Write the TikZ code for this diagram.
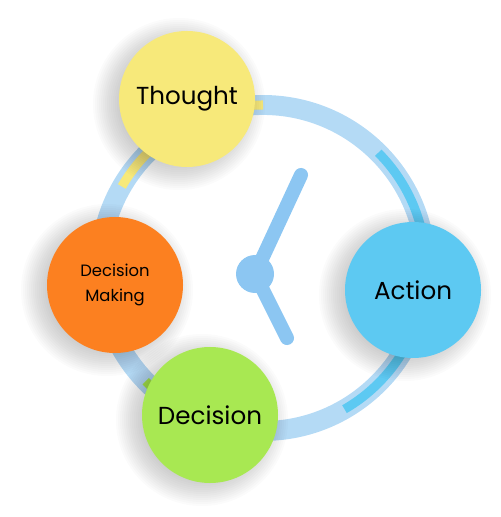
\documentclass[tikz,border=0pt]{standalone}
\usepackage{fontspec}
\setmainfont{Poppins}
\usepackage{tikz}
\usetikzlibrary{positioning}
\definecolor{ringblue}{RGB}{180,218,245}
\definecolor{handblue}{RGB}{140,198,242}
\definecolor{thoughtyellow}{RGB}{247,233,122}
\definecolor{actionblue}{RGB}{93,201,242}
\definecolor{makingorange}{RGB}{252,128,32}
\definecolor{decisiongreen}{RGB}{168,232,82}

\begin{document}
\begin{tikzpicture}[x=0.03cm,y=-0.03cm,
  stage/.style={circle,minimum size=4.08cm,inner sep=0pt,align=center,text=black,
    font=\fontsize{21}{24}\selectfont},
  accent/.style={line width=7.7pt},
  hand/.style={handblue,line width=12pt,line cap=round}]
\useasboundingbox (0,0) rectangle (500,517);
% clock face
\coordinate (ctr) at (263,268);
\draw[ringblue,line width=17pt] (ctr) circle[radius=4.89cm];
\draw[accent,thoughtyellow] ([shift={(ctr)}]120:4.89cm) arc[start angle=120,end angle=150,radius=4.89cm];
\draw[accent,thoughtyellow] ([shift={(ctr)}]90:4.89cm) arc[start angle=90,end angle=100,radius=4.89cm];
\draw[accent,actionblue] ([shift={(ctr)}]45:4.89cm) arc[start angle=45,end angle=5,radius=4.89cm];
\draw[accent,actionblue] ([shift={(ctr)}]-60:4.89cm) arc[start angle=-60,end angle=-20,radius=4.89cm];
\draw[accent,decisiongreen] ([shift={(ctr)}]224:4.89cm) arc[start angle=224,end angle=240,radius=4.89cm];
% hands
\coordinate (hub) at (255,274);
\coordinate (longtip) at (301,175);
\coordinate (shorttip) at (287,338);
\draw[hand] (hub) -- (longtip);
\draw[hand] (hub) -- (shorttip);
\fill[handblue] (hub) circle[radius=0.57cm];
% soft shadows under the stages
\foreach \cx/\cy in {187/99,413/290,115/285,210/415}
  \foreach \r in {58,60,...,86}
    \fill[black,opacity=0.016] (\cx-8,\cy+5) circle[radius=\r*0.03cm];
% stages
\node[stage,fill=thoughtyellow] (thought) at (187,99) {Thought};
\node[stage,fill=actionblue] (action) at (413,290) {Action};
\node[stage,fill=makingorange,font=\fontsize{14}{21}\selectfont] (making) at (115,285) {Decision\\Making};
\node[stage,fill=decisiongreen] (decision) at (210,415) {Decision};
\end{tikzpicture}
\end{document}
